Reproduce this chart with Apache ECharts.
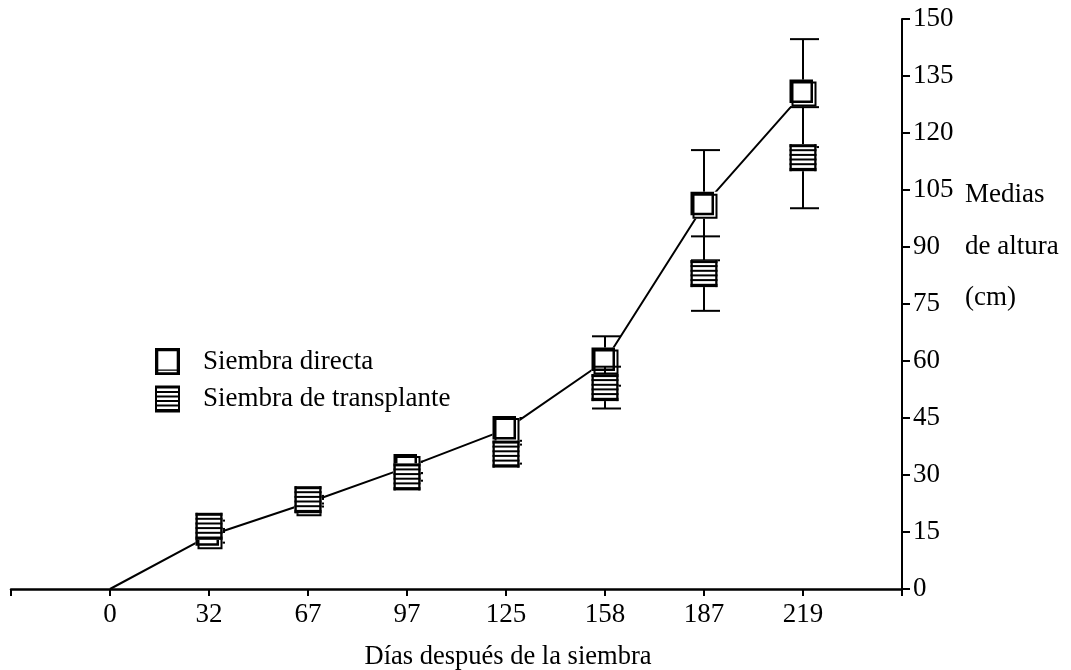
<!DOCTYPE html>
<html>
<head>
<meta charset="utf-8">
<script src="https://cdn.jsdelivr.net/npm/echarts@6/dist/echarts.min.js"></script>
<style>
  html, body { margin: 0; padding: 0; background: #fff; }
  #chart { width: 1071px; height: 670px; }
</style>
</head>
<body>
<div id="chart"></div>
<script>
// Sampling days after sowing
const dias = ['0', '32', '67', '97', '125', '158', '187', '219'];
// Mean plant height (cm) for each sowing method
const siembraDirecta = [0, 14, 22.7, 32, 42, 60, 101, 130.5];
const siembraTransplante = [0, 16.5, 23.5, 29.5, 35.5, 53, 83, 113.5];
// Error bar half-length (cm); null where no measurement marker exists
const errorDirecta = [null, 1.8, 1.0, 1.5, 3.0, 6.5, 14.5, 14.2];
const errorTransplante = [null, 1.5, 1.0, 1.0, 2.5, 5.5, 9.8, 13.3];
// Height axis ticks
const yMin = 0, yMax = 150, yStep = 15;

const serif = '"Liberation Serif", "Times New Roman", serif';
const FONT = 27;

// Blank slots at both ends of the day axis
const categories = [''].concat(dias, ['']);

function withErrors(means, errs) {
  return dias
    .map((d, i) => [d, means[i], errs[i]])
    .filter(item => item[2] != null);
}

// Legend glyphs (outer frame with cut-out holes)
const iconDirecta = 'path://M0 0H25V27H0Z M3.3 3.3V21.6H21.7V3.3Z M3.3 22.8V24.3H21.7V22.8Z';
const iconTransplante = 'path://M0 0H25V27H0Z M2 3V5.5H23V3Z M2 7.5V10H23V7.5Z M2 12V14.5H23V12Z M2 16.5V19H23V16.5Z M2 21V23.5H23V21Z';

function markerRenderer(kind) {
  return function (params, api) {
    const cat = api.value(0);
    const mean = api.value(1);
    const err = api.value(2);
    const c = api.coord([cat, mean]);
    const top = api.coord([cat, mean + err])[1];
    const bot = api.coord([cat, mean - err])[1];
    const cx = c[0], cy = c[1];
    const ink = { stroke: '#000', lineWidth: 2 };
    const children = [
      { type: 'line', shape: { x1: cx, y1: top, x2: cx, y2: bot }, style: ink },
      { type: 'line', shape: { x1: cx - 13, y1: top, x2: cx + 16, y2: top }, style: ink },
      { type: 'line', shape: { x1: cx - 13, y1: bot, x2: cx + 16, y2: bot }, style: ink }
    ];
    const L = cx - 13.5, T = cy - 13.5;
    children.push({ type: 'rect', shape: { x: L, y: T, width: 27, height: 27 }, style: { fill: '#fff' } });
    if (kind === 'directa') {
      // open square with a doubled, heavy outline
      children.push({ type: 'rect', shape: { x: L + 1.25, y: T + 1.25, width: 21, height: 21 },
        style: { fill: 'transparent', stroke: '#000', lineWidth: 2.5 } });
      children.push({ type: 'rect', shape: { x: L + 3, y: T + 3, width: 23, height: 23 },
        style: { fill: 'transparent', stroke: '#000', lineWidth: 2 } });
    } else {
      // horizontally striped square
      const bands = [[0, 3], [5, 2], [9.7, 2], [14.3, 2], [19, 2], [23.7, 3.3]];
      bands.forEach(b => children.push({ type: 'rect',
        shape: { x: L, y: T + b[0], width: 27, height: b[1] }, style: { fill: '#000' } }));
      children.push({ type: 'rect', shape: { x: L, y: T, width: 2.3, height: 27 }, style: { fill: '#000' } });
      children.push({ type: 'rect', shape: { x: L + 24.7, y: T, width: 2.3, height: 27 }, style: { fill: '#000' } });
    }
    return { type: 'group', children: children };
  };
}

const chart = echarts.init(document.getElementById('chart'), null, { renderer: 'canvas' });

chart.setOption({
  animation: false,
  backgroundColor: '#fff',
  grid: { left: 11, right: 169, top: 19, bottom: 81, containLabel: false },
  legend: {
    orient: 'vertical',
    left: 155,
    top: 345,
    padding: 0,
    itemWidth: 25,
    itemHeight: 27,
    itemGap: 4.5,
    selectedMode: false,
    textStyle: { fontFamily: serif, fontSize: FONT, color: '#000', lineHeight: 27, padding: [6, 0, 0, 18] },
    data: [
      { name: 'Siembra directa', icon: iconDirecta, itemStyle: { color: '#000' } },
      { name: 'Siembra de transplante', icon: iconTransplante, itemStyle: { color: '#000' } }
    ]
  },
  xAxis: {
    type: 'category',
    data: categories,
    boundaryGap: false,
    axisLine: { lineStyle: { color: '#000', width: 2.5 } },
    axisTick: { show: true, inside: false, length: 7, interval: 0, lineStyle: { color: '#000', width: 2 } },
    axisLabel: { interval: 0, color: '#000', fontFamily: serif, fontSize: FONT, margin: 12 },
    splitLine: { show: false }
  },
  yAxis: {
    type: 'value',
    position: 'right',
    min: yMin,
    max: yMax,
    interval: yStep,
    axisLine: { show: true, onZero: false, lineStyle: { color: '#000', width: 2 } },
    axisTick: { show: true, inside: false, length: 8, lineStyle: { color: '#000', width: 2 } },
    axisLabel: { color: '#000', fontFamily: serif, fontSize: FONT, margin: 11 },
    splitLine: { show: false }
  },
  graphic: [
    { type: 'text', x: 508, y: 657, silent: true,
      style: { text: 'Días después de la siembra', fontFamily: serif, fontSize: 26.5, fill: '#000', align: 'center', verticalAlign: 'middle' } },
    { type: 'text', x: 965, y: 195, silent: true,
      style: { text: 'Medias', fontFamily: serif, fontSize: FONT, fill: '#000', align: 'left', verticalAlign: 'middle' } },
    { type: 'text', x: 965, y: 247, silent: true,
      style: { text: 'de altura', fontFamily: serif, fontSize: FONT, fill: '#000', align: 'left', verticalAlign: 'middle' } },
    { type: 'text', x: 965, y: 298, silent: true,
      style: { text: '(cm)', fontFamily: serif, fontSize: FONT, fill: '#000', align: 'left', verticalAlign: 'middle' } }
  ],
  series: [
    {
      name: 'Tendencia',
      type: 'line',
      data: dias.map((d, i) => [d, siembraDirecta[i]]),
      symbol: 'none',
      lineStyle: { color: '#000', width: 2 },
      z: 1,
      silent: true
    },
    {
      name: 'Siembra directa',
      type: 'custom',
      data: withErrors(siembraDirecta, errorDirecta),
      renderItem: markerRenderer('directa'),
      itemStyle: { color: '#000' },
      z: 2,
      silent: true
    },
    {
      name: 'Siembra de transplante',
      type: 'custom',
      data: withErrors(siembraTransplante, errorTransplante),
      renderItem: markerRenderer('transplante'),
      itemStyle: { color: '#000' },
      z: 3,
      silent: true
    }
  ]
});
</script>
</body>
</html>
